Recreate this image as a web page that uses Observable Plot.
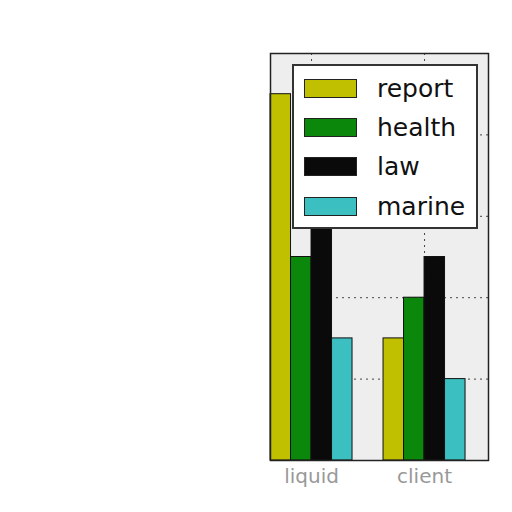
<!DOCTYPE html>
<html>
<head>
<meta charset="utf-8">
<script src="https://cdn.jsdelivr.net/npm/d3@7"></script>
<script src="https://cdn.jsdelivr.net/npm/@observablehq/plot@0.6"></script>
<style>
  body { margin: 0; background: #fff; }
  #wrap { position: relative; width: 512px; height: 512px; font-family: "DejaVu Sans", sans-serif; }
  #legend { position: absolute; left: 292px; top: 64px; width: 182px; height: 161px; background: #fff;
            border: 2px solid #333; box-sizing: content-box; }
  .row { position: absolute; left: 0; height: 30px; display: flex; align-items: center; }
  .sw { width: 51px; height: 17px; border: 1.5px solid #222; margin-left: 10px; }
  .lb { margin-left: 20px; font-size: 25px; color: #111; }
</style>
</head>
<body>
<div id="wrap"></div>
<script>
const categories = ["liquid", "client"];
const series = ["report", "health", "law", "marine"];
const colors = ["#c0c000", "#0b880b", "#0a0a0a", "#3cbfc0"];
const report = [4.5, 1.5];
const health = [2.5, 2.0];
const law = [3.0, 2.5];
const marine = [1.5, 1.0];
const yTicks = [1, 2, 3, 4];

const values = [report, health, law, marine];
const barW = 0.1814;
const rows = [];
categories.forEach((c, i) => {
  series.forEach((s, j) => {
    rows.push({category: c, series: s, x1: i + (j - 2) * barW, x2: i + (j - 1) * barW, value: values[j][i]});
  });
});

const chart = Plot.plot({
  width: 512,
  height: 512,
  marginLeft: 270,
  marginRight: 24,
  marginTop: 53,
  marginBottom: 52,
  style: {background: "transparent", fontFamily: "DejaVu Sans, sans-serif"},
  x: {domain: [-0.363, 1.566], axis: null},
  y: {domain: [0, 5], axis: null},
  color: {domain: series, range: colors},
  marks: [
    Plot.frame({fill: "#eeeeee", stroke: null}),
    Plot.gridY(yTicks, {stroke: "#333", strokeOpacity: 0.9, strokeDasharray: "2,4"}),
    Plot.gridX([0, 1], {stroke: "#333", strokeOpacity: 0.9, strokeDasharray: "2,4"}),
    Plot.rect(rows, {x1: "x1", x2: "x2", y1: 0, y2: "value", fill: "series", stroke: "#111", strokeWidth: 1}),
    Plot.axisX([0, 1], {tickSize: 0, tickPadding: 8, fontSize: 20, fill: "#999",
      tickFormat: d => categories[d]}),
    Plot.frame({stroke: "#222", strokeWidth: 1.5})
  ]
});

const wrap = document.getElementById("wrap");
wrap.appendChild(chart);

const legend = document.createElement("div");
legend.id = "legend";
const rowTops = [7, 46, 85, 125];
series.forEach((s, j) => {
  const r = document.createElement("div");
  r.className = "row";
  r.style.top = rowTops[j] + "px";
  const sw = document.createElement("div");
  sw.className = "sw";
  sw.style.background = colors[j];
  const lb = document.createElement("span");
  lb.className = "lb";
  lb.textContent = s;
  r.appendChild(sw);
  r.appendChild(lb);
  legend.appendChild(r);
});
wrap.appendChild(legend);
</script>
</body>
</html>
